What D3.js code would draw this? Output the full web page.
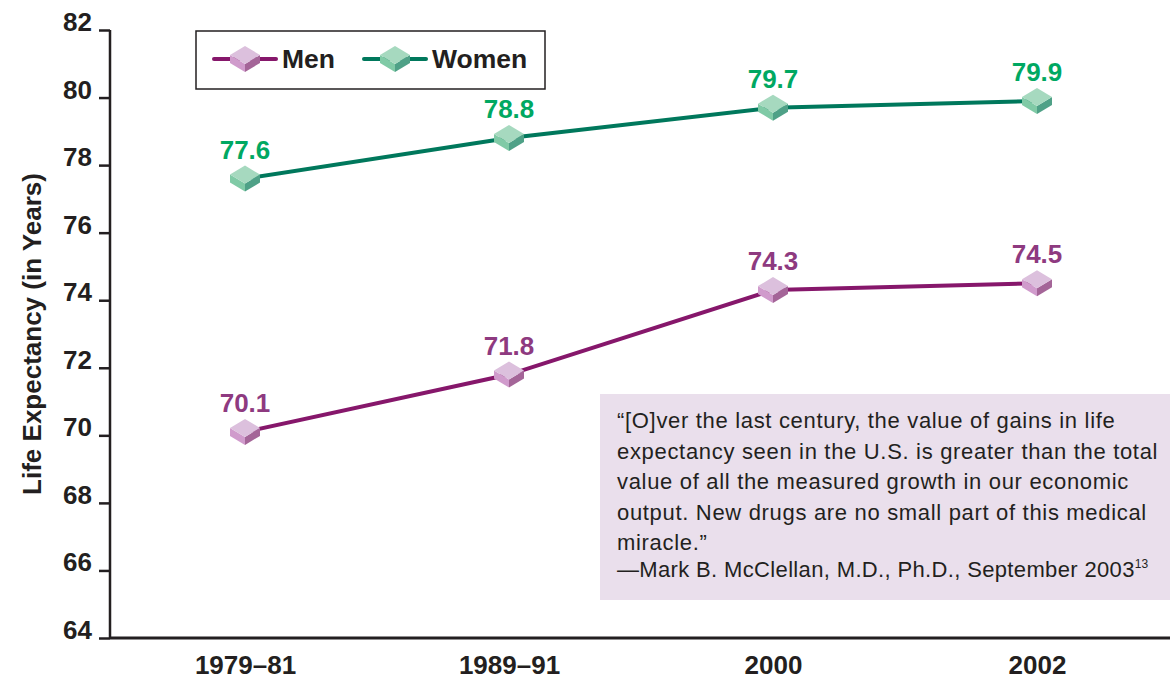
<!DOCTYPE html>
<html>
<head>
<meta charset="utf-8">
<script src="https://cdn.jsdelivr.net/npm/d3@7"></script>
<style>
  body { margin: 0; background: #fff; }
  svg { display: block; }
  .cond { font-family: "Liberation Sans Narrow", "Arial Narrow", sans-serif; font-weight: bold; }
</style>
</head>
<body>
<div id="chart"></div>
<script>
// data
const categories = ["1979–81", "1989–91", "2000", "2002"];
const menValues = [70.1, 71.8, 74.3, 74.5];
const womenValues = [77.6, 78.8, 79.7, 79.9];
const yTicks = [64, 66, 68, 70, 72, 74, 76, 78, 80, 82];
const quoteLines = [
  "“[O]ver the last century, the value of gains in life",
  "expectancy seen in the U.S. is greater than the total",
  "value of all the measured growth in our economic",
  "output. New drugs are no small part of this medical",
  "miracle.”"
];

const W = 1170, H = 680;
const margin = {top: 30, right: 0, bottom: 42, left: 110};

const svg = d3.select("#chart").append("svg")
  .attr("width", W).attr("height", H);

const x = d3.scalePoint()
  .domain(categories)
  .range([245, 1037]);

const y = d3.scaleLinear()
  .domain([64, 82])
  .range([H - margin.bottom, margin.top]);

// quote box (behind axes)
const qfont = "'Liberation Sans', Arial, sans-serif";
const qb = svg.append("g").attr("transform", "translate(600,394)");
qb.append("rect").attr("width", 570).attr("height", 206).attr("fill", "#eadfec");
qb.selectAll("text.q")
  .data(quoteLines)
  .join("text")
  .attr("class", "q")
  .attr("x", 17)
  .attr("y", (d, i) => 34 + i * 30.5)
  .attr("font-family", qfont)
  .attr("font-size", 22)
  .attr("letter-spacing", 0.68)
  .attr("fill", "#231f20")
  .text(d => d);
const attr = qb.append("text")
  .attr("x", 17).attr("y", 183)
  .attr("font-family", qfont)
  .attr("font-size", 22)
  .attr("letter-spacing", 0.35)
  .attr("fill", "#231f20")
  .text("—Mark B. McClellan, M.D., Ph.D., September 2003");
attr.append("tspan").attr("font-size", 12).attr("letter-spacing", 0).attr("dy", -9).text("13");

// y axis
const yAxis = svg.append("g")
  .attr("transform", `translate(${margin.left},0)`)
  .call(d3.axisLeft(y).tickValues(yTicks).tickSize(11).tickPadding(7));
yAxis.select(".domain").attr("stroke", "#231f20").attr("stroke-width", 2.5)
  .attr("d", `M0,${y(82)}V${y(64)}`);
yAxis.selectAll(".tick line").attr("stroke", "#231f20").attr("stroke-width", 2.5);
yAxis.selectAll(".tick text")
  .attr("class", "cond")
  .attr("font-size", 26)
  .attr("fill", "#231f20")
  .attr("dy", "0.02em");

// x axis
const xAxis = svg.append("g")
  .attr("transform", `translate(0,${y(64)})`)
  .call(d3.axisBottom(x).tickSize(0).tickPadding(14));
xAxis.select(".domain").attr("stroke", "#231f20").attr("stroke-width", 3)
  .attr("d", `M${margin.left},0H${W}`);
xAxis.selectAll(".tick text")
  .attr("class", "cond")
  .attr("font-size", 26)
  .attr("fill", "#231f20")
  .attr("dy", "0.85em");

// y axis title
svg.append("text")
  .attr("transform", `translate(41,${(y(64) + y(82)) / 2}) rotate(-90)`)
  .attr("text-anchor", "middle")
  .attr("font-family", qfont)
  .attr("font-weight", "bold")
  .attr("font-size", 26)
  .attr("fill", "#231f20")
  .text("Life Expectancy (in Years)");

const series = [
  {name: "Men", values: menValues, line: "#86176b", label: "#8e3a80",
   top: "#dcc0dd", left: "#d09bcc", right: "#a46598"},
  {name: "Women", values: womenValues, line: "#00785c", label: "#00a862",
   top: "#a6d9bf", left: "#80caa6", right: "#4fa187"}
];

// cube shaped marker
function cube(g, s) {
  g.append("path").attr("d", "M-15,-4 L0,5 L0,13 L-15,4 Z").attr("fill", s.left);
  g.append("path").attr("d", "M0,5 L15,-4 L15,4 L0,13 Z").attr("fill", s.right);
  g.append("path").attr("d", "M0,-13 L15,-4 L0,5 L-15,-4 Z").attr("fill", s.top);
}

const line = d3.line()
  .x((d, i) => x(categories[i]))
  .y(d => y(d));

series.forEach(s => {
  svg.append("path")
    .datum(s.values)
    .attr("fill", "none")
    .attr("stroke", s.line)
    .attr("stroke-width", 4)
    .attr("d", line);

  const pts = svg.selectAll(null)
    .data(s.values)
    .join("g")
    .attr("transform", (d, i) => `translate(${x(categories[i])},${y(d)})`);
  pts.each(function() { cube(d3.select(this), s); });

  svg.selectAll(null)
    .data(s.values)
    .join("text")
    .attr("class", "cond")
    .attr("x", (d, i) => x(categories[i]))
    .attr("y", d => y(d) - 20)
    .attr("text-anchor", "middle")
    .attr("font-size", 26)
    .attr("fill", s.label)
    .text(d => d.toFixed(1));
});

// legend
const lg = svg.append("g").attr("transform", "translate(196,31)");
lg.append("rect").attr("width", 349).attr("height", 58)
  .attr("fill", "#fff").attr("stroke", "#231f20").attr("stroke-width", 1.5);
const legendX = [49, 199];
series.forEach((s, i) => {
  const g = lg.append("g").attr("transform", `translate(${legendX[i]},28)`);
  g.append("line").attr("x1", -31).attr("x2", 31)
    .attr("stroke", s.line).attr("stroke-width", 4).attr("stroke-linecap", "round");
  cube(g, s);
  g.append("text")
    .attr("x", 37).attr("y", 9)
    .attr("font-family", qfont)
    .attr("font-weight", "bold")
    .attr("font-size", 26.5)
    .attr("fill", "#231f20")
    .text(s.name);
});
</script>
</body>
</html>
